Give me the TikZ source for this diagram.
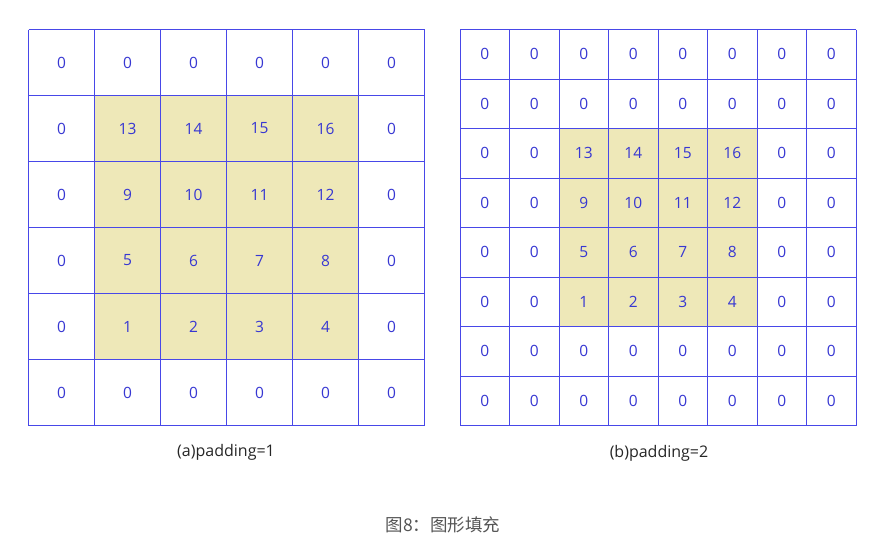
\documentclass[tikz,border=0pt]{standalone}
\usepackage{fontspec}
\setmainfont{Open Sans}
\newfontfamily\cjk{Noto Sans CJK SC}
\definecolor{gridline}{RGB}{72,72,232}
\definecolor{numtext}{RGB}{55,55,210}
\definecolor{padfill}{RGB}{238,232,184}
\definecolor{captext}{RGB}{85,85,85}
\begin{document}
\begin{tikzpicture}[x=1pt,y=-1pt,
  cellA/.style={minimum width=66pt,minimum height=66pt,inner sep=0pt,text=numtext,font=\fontsize{15.5}{18}\selectfont},
  cellB/.style={minimum width=49.5pt,minimum height=49.5pt,inner sep=0pt,text=numtext,font=\fontsize{15.5}{18}\selectfont},
  gridstyle/.style={draw=gridline,line width=1pt},
  sublabel/.style={font=\fontsize{16}{18}\selectfont,text=black!85},
  caption/.style={font=\cjk\fontsize{17.5}{20}\selectfont,text=captext}]
\useasboundingbox (0,0) rectangle (896,546);
% ---------- grid (a) ----------
\fill[padfill] (94.5,95.5) rectangle (358.5,359.5);
\foreach \i in {0,...,6}{
  \draw[gridstyle] ({28.5+66*\i},29.5) -- ({28.5+66*\i},425.5);
  \draw[gridstyle] (28.5,{29.5+66*\i}) -- (424.5,{29.5+66*\i});
}
\foreach \r in {0,...,5}{
  \foreach \c in {0,...,5}{
    \pgfmathtruncatemacro{\inner}{(\r>0)&&(\r<5)&&(\c>0)&&(\c<5)}
    \ifnum\inner=1
      \pgfmathtruncatemacro{\val}{(4-\r)*4+\c}
    \else
      \def\val{0}
    \fi
    \node[cellA] (a-\r-\c) at ({28.5+33+66*\c},{29.5+33+66*\r}) {\val};
  }
}
% ---------- grid (b) ----------
\fill[padfill] (559,128.5) rectangle (757,326.5);
\foreach \i in {0,...,8}{
  \draw[gridstyle] ({460+49.5*\i},29.5) -- ({460+49.5*\i},425.5);
  \draw[gridstyle] (460,{29.5+49.5*\i}) -- (856,{29.5+49.5*\i});
}
\foreach \r in {0,...,7}{
  \foreach \c in {0,...,7}{
    \pgfmathtruncatemacro{\inner}{(\r>1)&&(\r<6)&&(\c>1)&&(\c<6)}
    \ifnum\inner=1
      \pgfmathtruncatemacro{\val}{(5-\r)*4+\c-1}
    \else
      \def\val{0}
    \fi
    \node[cellB] (b-\r-\c) at ({460+24.75+49.5*\c},{29.5+24.75+49.5*\r}) {\val};
  }
}
% ---------- labels ----------
\node[sublabel] (labA) at (226,452) {(a)padding=1};
\node[sublabel] (labB) at (659,453) {(b)padding=2};
\node[caption] (cap) at (443,525) {图8：图形填充};
\end{tikzpicture}
\end{document}
